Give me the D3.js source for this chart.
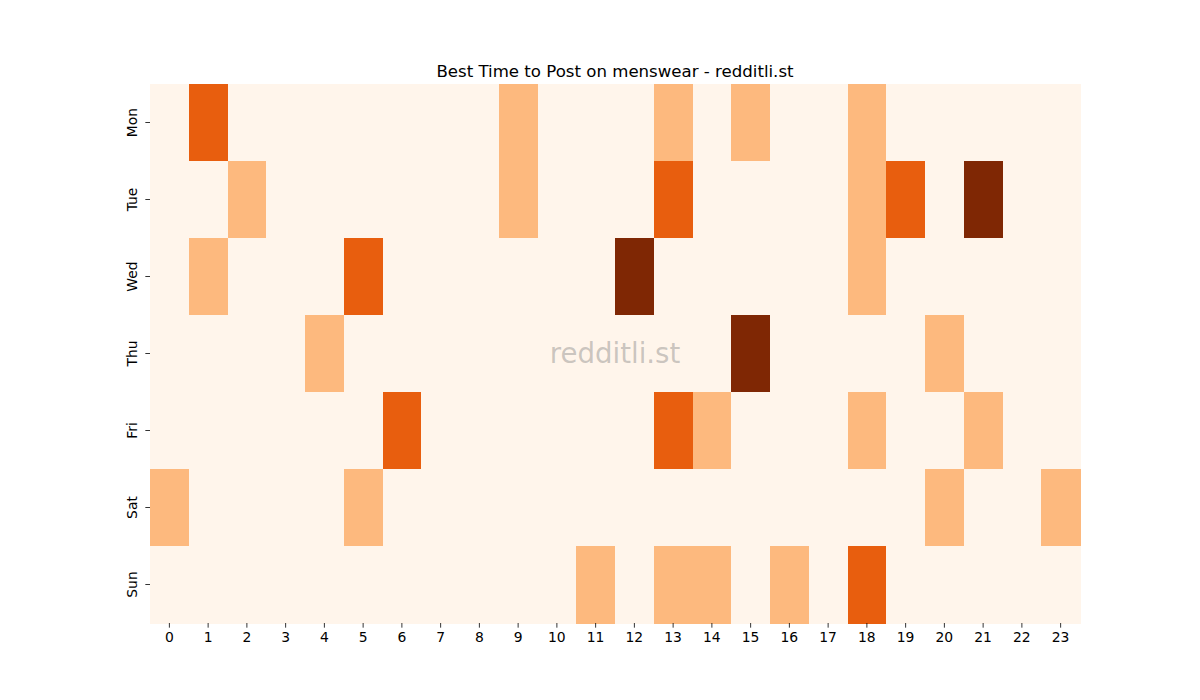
<!DOCTYPE html>
<html>
<head>
<meta charset="utf-8">
<script src="https://cdn.jsdelivr.net/npm/d3@7"></script>
<style>
  body { margin: 0; background: #fff; }
  svg { display: block; font-family: "DejaVu Sans", sans-serif; }
</style>
</head>
<body>
<svg id="chart" width="1200" height="700"></svg>
<script>
const days = ["Mon", "Tue", "Wed", "Thu", "Fri", "Sat", "Sun"];
const hours = d3.range(24).map(String);
// non-zero cells per day: [hour, level]
const monCells = [[1, 2], [9, 1], [13, 1], [15, 1], [18, 1]];
const tueCells = [[2, 1], [9, 1], [13, 2], [18, 1], [19, 2], [21, 3]];
const wedCells = [[1, 1], [5, 2], [12, 3], [18, 1]];
const thuCells = [[4, 1], [15, 3], [20, 1]];
const friCells = [[6, 2], [13, 2], [14, 1], [18, 1], [21, 1]];
const satCells = [[0, 1], [5, 1], [20, 1], [23, 1]];
const sunCells = [[11, 1], [13, 1], [14, 1], [16, 1], [18, 2]];
const dayCells = [monCells, tueCells, wedCells, thuCells, friCells, satCells, sunCells];
const chartTitle = "Best Time to Post on menswear - redditli.st";
const watermark = "redditli.st";

const cells = [];
days.forEach((d, i) => {
  const m = new Map(dayCells[i]);
  hours.forEach((h, j) => cells.push({ day: d, hour: h, v: m.get(j) || 0 }));
});

const svg = d3.select("#chart");
const mLeft = 150, mRight = 1080, mTop = 84, mBottom = 623;

const x = d3.scaleBand().domain(hours).range([mLeft, mRight]);
const y = d3.scaleBand().domain(days).range([mTop, mBottom]);
const color = d3.scaleSequential(d3.interpolateOranges).domain([0, 3]);

svg.append("g").selectAll("rect").data(cells).join("rect")
  .attr("x", d => x(d.hour))
  .attr("y", d => y(d.day))
  .attr("width", x.bandwidth() + 0.5)
  .attr("height", y.bandwidth() + 0.5)
  .attr("fill", d => color(d.v))
  .attr("shape-rendering", "crispEdges");

svg.append("text")
  .attr("x", (mLeft + mRight) / 2).attr("y", (mTop + mBottom) / 2)
  .attr("text-anchor", "middle").attr("dominant-baseline", "central")
  .attr("font-size", 27.6).attr("fill", "#808080").attr("fill-opacity", 0.42)
  .text(watermark);

const xAxis = svg.append("g").attr("transform", `translate(0,${mBottom})`)
  .call(d3.axisBottom(x).tickSize(4.67).tickPadding(4.5));
xAxis.select(".domain").remove();
xAxis.selectAll(".tick line").attr("stroke", "#000").attr("stroke-width", 0.8);
xAxis.selectAll(".tick text").attr("font-size", 13.9).attr("fill", "#000")
  .attr("font-family", "DejaVu Sans, sans-serif");

const yAxis = svg.append("g").attr("transform", `translate(${mLeft},0)`)
  .call(d3.axisLeft(y).tickSize(4.67).tickPadding(4.5));
yAxis.select(".domain").remove();
yAxis.selectAll(".tick line").attr("stroke", "#000").attr("stroke-width", 0.8);
yAxis.selectAll(".tick text")
  .attr("font-size", 13.9).attr("fill", "#000")
  .attr("font-family", "DejaVu Sans, sans-serif")
  .attr("x", null).attr("dy", null)
  .attr("text-anchor", "middle")
  .attr("transform", "translate(-18,0) rotate(-90)")
  .attr("dominant-baseline", "central");

svg.append("text")
  .attr("x", (mLeft + mRight) / 2).attr("y", 77)
  .attr("text-anchor", "middle").attr("font-size", 16.6).attr("fill", "#000")
  .text(chartTitle);
</script>
</body>
</html>
